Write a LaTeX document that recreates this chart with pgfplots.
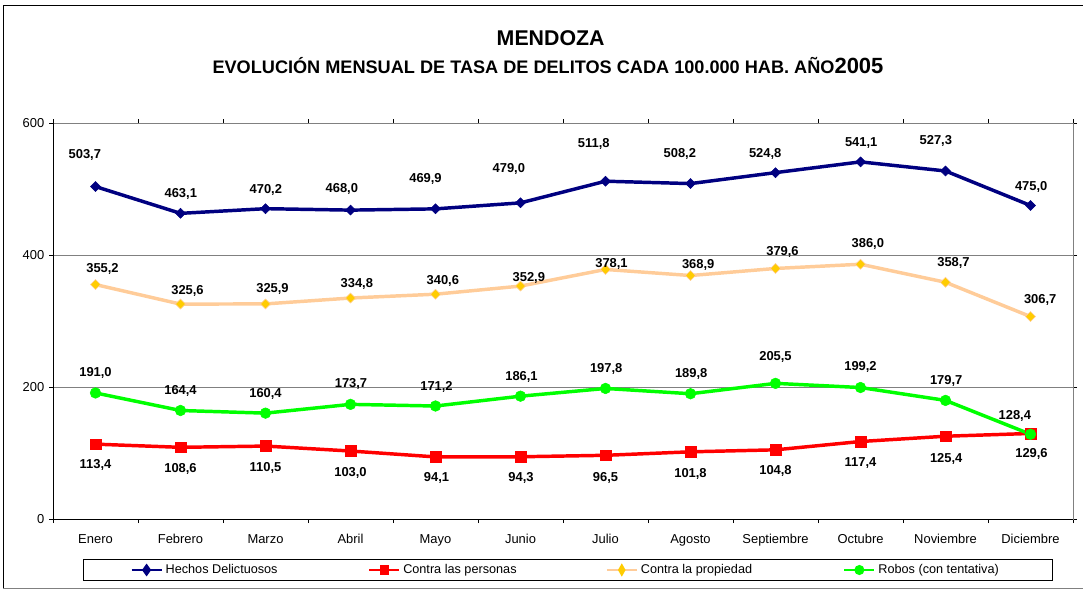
\documentclass[border=0pt]{standalone}
\usepackage{fontspec}
\setmainfont{Liberation Sans}
\usepackage{pgfplots}
\pgfplotsset{compat=1.18}
\definecolor{hechos}{HTML}{000080}
\definecolor{personas}{HTML}{FF0000}
\definecolor{propline}{HTML}{FFCC99}
\definecolor{propmark}{HTML}{FFCC00}
\definecolor{robos}{HTML}{00FF00}
\definecolor{gridgray}{HTML}{808080}
\pgfplotsset{
 lbl/.style={
  point meta=explicit symbolic,
  nodes near coords,
  visualization depends on={\thisrow{dx} \as \ldx},
  visualization depends on={\thisrow{dy} \as \ldy},
  nodes near coords style={font=\fontsize{9.7}{11}\selectfont\bfseries, text=black, anchor=center, text depth=0pt, inner sep=0pt, xshift={\ldx*0.75pt}, yshift={-\ldy*0.75pt}},
 }
}
\begin{document}
\begin{tikzpicture}
\useasboundingbox (0pt,0pt) rectangle (812.25pt,442.5pt);
\draw[black,line width=1pt] (2.5pt,1pt) -- (2.5pt,438.5pt) -- (812.25pt,438.5pt);
\draw[gray,line width=1pt] (2.5pt,1pt) -- (812.25pt,1pt);
\node[font=\fontsize{16}{18}\selectfont\bfseries, anchor=base] at (413pt,408.5pt) {MENDOZA};
\node[font=\bfseries, anchor=base] at (411pt,387pt) {\fontsize{13.6}{15}\selectfont EVOLUCIÓN MENSUAL DE TASA DE DELITOS CADA 100.000 HAB. AÑO\fontsize{16.5}{18}\selectfont 2005};
\begin{axis}[
  at={(39.75pt,53.25pt)}, anchor=south west,
  scale only axis, width=765pt, height=297pt,
  xmin=-0.5, xmax=11.5, ymin=0, ymax=600,
  xtick={-0.5,0.5,1.5,2.5,3.5,4.5,5.5,6.5,7.5,8.5,9.5,10.5,11.5},
  xticklabels={Enero,Febrero,Marzo,Abril,Mayo,Junio,Julio,Agosto,Septiembre,Octubre,Noviembre,Diciembre,{}},
  xticklabel style={xshift=31.875pt, yshift=-4.5pt, font=\fontsize{9.7}{11}\selectfont, text height=0.75em, text depth=0.2em},
  ytick={0,200,400,600},
  yticklabel style={font=\fontsize{9.7}{11}\selectfont},
  /pgf/number format/assume math mode=true,
  tick align=outside, major tick length=3pt,
  tick style={black, line width=0.75pt},
  axis line style={draw=gridgray, line width=0.75pt},
  ymajorgrids, major grid style={gridgray, line width=0.75pt},
  clip=false,
  legend columns=4,
  legend cell align=left,
  legend style={at={(0.5049,-0.1288)}, anchor=center, draw=black, line width=0.75pt,
    font=\fontsize{9.5}{11}\selectfont, inner xsep=35.25pt, inner ysep=2.8pt,
    /tikz/every even column/.append style={column sep=56.6pt},
    nodes={inner xsep=2.25pt, inner ysep=1pt}},
]
\addplot[hechos, line width=2.6pt, mark=square*, mark size=2.65pt,
  mark options={rotate=45, solid, fill=hechos, draw=hechos, line width=0.4pt}, lbl,
  legend image code/.code={\draw[hechos,line width=1.6pt] (0pt,0pt)--(22.5pt,0pt);
    \fill[hechos] (11.25pt,2.6pt)--(13.1pt,0pt)--(11.25pt,-2.6pt)--(9.4pt,0pt)--cycle;}]
  table[x=x,y=y,meta=lab]{
x y lab dx dy
0 503.7 503,7 -10.7 -32.3
1 463.1 463,1 0.3 -20.7
2 470.2 470,2 0.3 -19.7
3 468.0 468,0 -8.7 -22.4
4 469.9 469,9 -10 -31.2
5 479.0 479,0 -11.7 -35.2
6 511.8 511,8 -11.7 -38.5
7 508.2 508,2 -10.7 -30.9
8 524.8 524,8 -10.3 -19.9
9 541.1 541,1 0.7 -20.2
10 527.3 527,3 -9.7 -31
11 475.0 475,0 0.7 -19.5
};
\addlegendentry{\makebox[93pt][l]{Hechos Delictuosos}}
\addplot[personas, line width=2.6pt, mark=square*, mark size=4pt,
  mark options={solid, fill=personas, draw=personas, line width=0.4pt}, lbl,
  legend image code/.code={\draw[personas,line width=1.6pt] (0pt,0pt)--(22.5pt,0pt);
    \fill[personas] (9.1pt,-2.1pt) rectangle (13.4pt,2.1pt);}]
  table[x=x,y=y,meta=lab]{
x y lab dx dy
0 113.4 113,4 0 20.1
1 108.6 108,6 0 20.4
2 110.5 110,5 0 20.6
3 103.0 103,0 0 20.7
4 94.1 94,1 1 20.4
5 94.3 94,3 0.5 20.5
6 96.5 96,5 0 21.4
7 101.8 101,8 0 20.9
8 104.8 104,8 0 20.5
9 117.4 117,4 0 20.5
10 125.4 125,4 0.7 21.5
11 129.6 129,6 1 19.8
};
\addlegendentry{\makebox[93pt][l]{Contra las personas}}
\addplot[propline, line width=2.6pt, mark=square*, mark size=2.65pt,
  mark options={rotate=45, solid, fill=propmark, draw=propline, line width=0.4pt}, lbl,
  legend image code/.code={\draw[propline,line width=1.6pt] (0pt,0pt)--(22.5pt,0pt);
    \fill[propmark] (11.25pt,2.4pt)--(12.6pt,0pt)--(11.25pt,-2.4pt)--(9.9pt,0pt)--cycle;}]
  table[x=x,y=y,meta=lab]{
x y lab dx dy
0 355.2 355,2 7 -16.9
1 325.6 325,6 7 -14.1
2 325.9 325,9 7 -15.6
3 334.8 334,8 6.3 -15.3
4 340.6 340,6 7.3 -14.2
5 352.9 352,9 8.3 -8.8
6 378.1 378,1 6 -6.8
7 368.9 368,9 7.7 -11.5
8 379.6 379,6 7 -17.8
9 386.0 386,0 7.3 -20.9
10 358.7 358,7 8 -20.6
11 306.7 306,7 9.7 -17.3
};
\addlegendentry{\makebox[93pt][l]{Contra la propiedad}}
\addplot[robos, line width=2.6pt, mark=*, mark size=4pt,
  mark options={solid, fill=robos, draw=robos, line width=0.4pt}, lbl,
  legend image code/.code={\draw[robos,line width=1.6pt] (0pt,0pt)--(22.5pt,0pt);
    \fill[robos] (11.25pt,0pt) circle (2.4pt);}]
  table[x=x,y=y,meta=lab]{
x y lab dx dy
0 191.0 191,0 0 -21.2
1 164.4 164,4 0 -20.5
2 160.4 160,4 0 -20.4
3 173.7 173,7 0.5 -21.1
4 171.2 171,2 1 -20
5 186.1 186,1 1 -20.5
6 197.8 197,8 0.7 -20.8
7 189.8 189,8 0.7 -20.4
8 205.5 205,5 0 -27
9 199.2 199,2 0 -21.5
10 179.7 179,7 0.7 -20.4
11 128.4 128,4 -15.7 -19.3
};
\addlegendentry{\makebox[93pt][l]{Robos (con tentativa)}}
\draw[black, line width=0.75pt] (rel axis cs:0,1) -- (rel axis cs:0,0) -- (rel axis cs:1,0);
\end{axis}
\end{tikzpicture}
\end{document}
